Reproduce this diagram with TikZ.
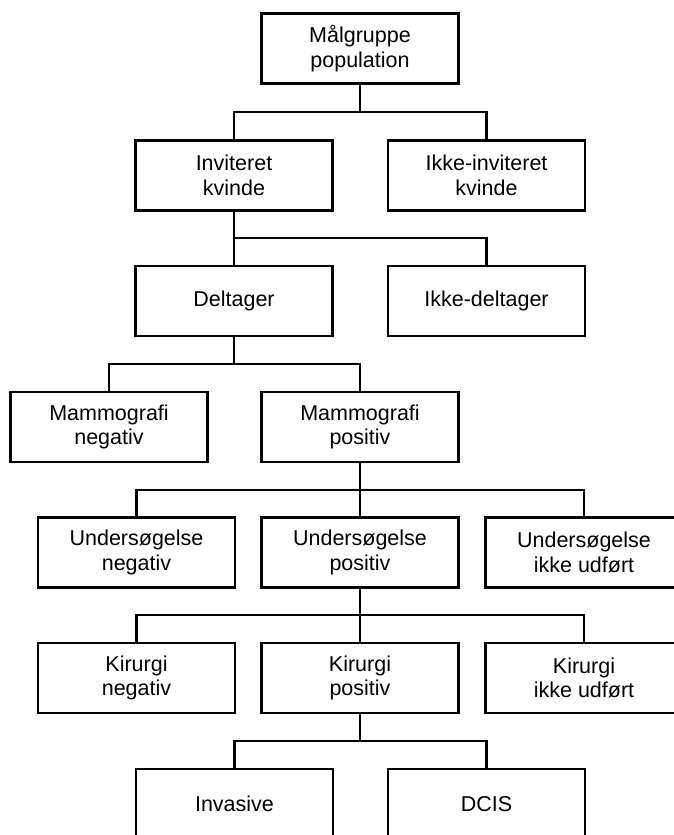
\documentclass[tikz,border=0pt]{standalone}
\usepackage{fontspec}
\setmainfont{Liberation Sans}
\usetikzlibrary{calc}

\begin{document}
\begin{tikzpicture}[x=1pt,y=-1pt,
        box/.style={draw, line width=2.2pt, minimum width=197pt, minimum height=70pt,
                    align=center, font=\fontsize{21.5}{24.5}\selectfont, inner sep=0pt},
        link/.style={line width=2.2pt, line join=miter}]
            \clip (0,0) rectangle (674,835);
            \fill[white] (0,0) rectangle (674,835);
            \node[box] (mal) at (360,48.5) {Målgruppe\\population};
            \node[box] (inv) at (234,175.5) {Inviteret\\kvinde};
            \node[box] (ikkeinv) at (486.5,175.5) {Ikke-inviteret\\kvinde};
            \node[box] (delt) at (234,301) {Deltager};
            \node[box] (ikkedelt) at (486.5,301) {Ikke-deltager};
            \node[box] (mamneg) at (109,427) {Mammografi\\negativ};
            \node[box] (mampos) at (360,427) {Mammografi\\positiv};
            \node[box] (undneg) at (136.5,552.5) {Undersøgelse\\negativ};
            \node[box] (undpos) at (360,552.5) {Undersøgelse\\positiv};
            \node[box] (undikke) at (584,552.5) {Undersøgelse\\ikke udført};
            \node[box] (kirneg) at (136.5,678) {Kirurgi\\negativ};
            \node[box] (kirpos) at (360,678) {Kirurgi\\positiv};
            \node[box] (kirikke) at (584,678) {Kirurgi\\ikke udført};
            \node[box] (invas) at (234.5,804) {Invasive};
            \node[box] (dcis) at (486.5,804) {DCIS};
            \foreach \p/\c in {mal/inv, mal/ikkeinv, inv/delt, inv/ikkedelt, delt/mamneg, delt/mampos,
                               mampos/undneg, mampos/undpos, mampos/undikke,
                               undpos/kirneg, undpos/kirpos, undpos/kirikke, kirpos/invas, kirpos/dcis}
                \draw[link] (\p.south) |- ($(\p.south)!0.5!(\c.north)$) -| (\c.north);
        \end{tikzpicture}
\end{document}
